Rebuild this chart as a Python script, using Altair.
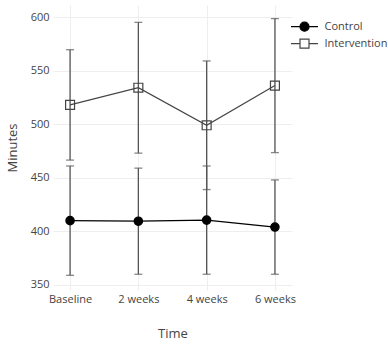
import altair as alt
import pandas as pd

# Mean minutes and SD at each time point
times = ["Baseline", "2 weeks", "4 weeks", "6 weeks"]
groups = ["Control", "Intervention"]
control_mean = [410, 409.5, 410.5, 404]
control_sd = [51, 49.5, 50.5, 44]
intervention_mean = [518, 534, 499, 536]
intervention_sd = [51.5, 61, 60, 62.5]

rows = []
for g, means, sds in [("Control", control_mean, control_sd),
                      ("Intervention", intervention_mean, intervention_sd)]:
    for t, m, s in zip(times, means, sds):
        rows.append({"time": t, "group": g, "mean": m, "lo": m - s, "hi": m + s})
df = pd.DataFrame(rows)

FONT = "Open Sans"
x_enc = alt.X("time:N", sort=times, title="Time",
              scale=alt.Scale(type="point", padding=0.25))
y_scale = alt.Scale(domain=[345.3, 611.2], nice=False, zero=False)
y_enc = alt.Y("mean:Q", title="Minutes", scale=y_scale,
              axis=alt.Axis(values=[350, 400, 450, 500, 550, 600]))

base = alt.Chart(df)

bars = base.mark_rule(color="#555", strokeWidth=1.3).encode(
    x=x_enc, y=alt.Y("lo:Q", scale=y_scale), y2="hi:Q")
caps_lo = base.mark_tick(color="#555", thickness=1.3, size=8).encode(
    x=x_enc, y=alt.Y("lo:Q", scale=y_scale))
caps_hi = base.mark_tick(color="#555", thickness=1.3, size=8).encode(
    x=x_enc, y=alt.Y("hi:Q", scale=y_scale))

lines = base.mark_line(strokeWidth=1.2).encode(
    x=x_enc, y=y_enc, detail="group:N",
    stroke=alt.Stroke("group:N", scale=alt.Scale(domain=groups, range=["#000", "#444"]),
                      legend=None))

points = base.mark_point(strokeWidth=1.2, opacity=1).encode(
    x=x_enc, y=y_enc,
    shape=alt.Shape("group:N", scale=alt.Scale(domain=groups, range=["circle", "square"]),
                    legend=None),
    fill=alt.Fill("group:N", scale=alt.Scale(domain=groups, range=["#000", "transparent"]),
                  legend=None),
    stroke=alt.Stroke("group:N", scale=alt.Scale(domain=groups, range=["#000", "#444"]),
                      legend=None),
    size=alt.Size("group:N", scale=alt.Scale(domain=groups, range=[70, 80]), legend=None),
)

# Legend entries: line with marker glyph
ctrl_path = "M-1.5,0H1.5M0.5,0A0.5,0.5,0,1,1,-0.5,0A0.5,0.5,0,1,1,0.5,0"
int_path = "M-1.5,0H-0.5M0.5,0H1.5M-0.5,-0.5H0.5V0.5H-0.5Z"
legend_layer = base.transform_filter("false").mark_point(opacity=1, strokeWidth=1.2).encode(
    x=x_enc, y=y_enc,
    shape=alt.Shape("group:N", scale=alt.Scale(domain=groups, range=[ctrl_path, int_path]),
                    legend=alt.Legend(title=None, orient="none", legendX=241.5, legendY=11.7,
                                      symbolSize=324, symbolStrokeWidth=1.2,
                                      labelOffset=10, rowPadding=0, padding=0,
                                      labelFont=FONT, labelFontSize=11, labelColor="#444")),
    fill=alt.Fill("group:N", scale=alt.Scale(domain=groups, range=["#000", "#fff"]),
                  legend=alt.Legend(title=None, orient="none", legendX=241.5, legendY=11.7)),
    stroke=alt.Stroke("group:N", scale=alt.Scale(domain=groups, range=["#000", "#444"]),
                      legend=alt.Legend(title=None, orient="none", legendX=241.5, legendY=11.7)),
)

points_and_legend = alt.layer(points, legend_layer).resolve_scale(
    shape="independent", fill="independent", stroke="independent")

chart = alt.layer(bars, caps_lo, caps_hi, lines, points_and_legend).resolve_scale(
    stroke="independent"
).properties(
    width=239, height=285,
    autosize=alt.AutoSizeParams(type="none"),
    padding={"left": 53, "top": 5, "right": 96, "bottom": 54},
).configure_view(stroke=None).configure_axis(
    domain=False, ticks=False, grid=True, gridColor="#eee", gridWidth=1,
    labelFont=FONT, labelFontSize=11, labelColor="#444",
    titleFont=FONT, titleFontSize=13, titleColor="#444", titleFontWeight="normal",
).configure_axisX(labelAngle=0, labelPadding=3, titlePadding=23).configure_axisY(
    labelPadding=4, titlePadding=11)

chart.save("out.html", embed_options={"renderer": "svg", "actions": False})
